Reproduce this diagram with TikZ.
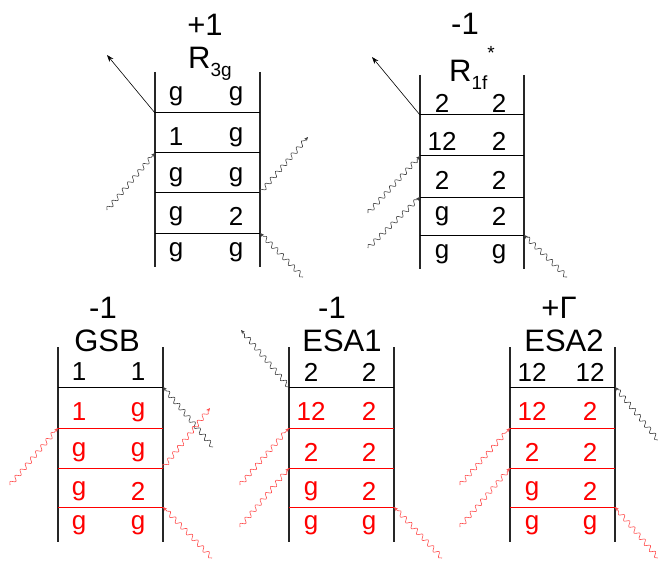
\documentclass[tikz,border=0pt]{standalone}
\usepackage{fontspec}
\setmainfont{Liberation Sans}
\usepackage{tikz}
\usetikzlibrary{arrows.meta,decorations.pathmorphing,positioning}

\newcommand{\lowsub}[1]{\raisebox{-8pt}{\fontsize{19}{19}\selectfont #1}}
\newcommand{\highsup}[1]{\raisebox{22pt}{\fontsize{19}{19}\selectfont #1}}

\begin{document}
\begin{tikzpicture}[
    x=1pt, y=-1pt,
    rail/.style={line width=1.6pt, black!85},
    rung/.style={line width=1pt},
    lbl/.style={inner sep=0pt, font=\fontsize{26}{26}\selectfont},
    ttl/.style={inner sep=0pt, anchor=base, font=\fontsize{31}{31}\selectfont},
    photon/.style={decorate, decoration={snake, amplitude=2.3pt, segment length=8pt, post length=3pt},
        line width=0.6pt, -{Stealth[length=4pt,width=3.5pt]}},
    emit/.style={-{Stealth[length=7pt,width=5pt]}, line width=0.6pt}
]
\useasboundingbox (0,0) rectangle (658,564);

% R_3g
\node[ttl] (A-sign) at (205,36) {+1};
\node[ttl] (A-name) at (210,69) {R\lowsub{3g}};
\coordinate (A-tl) at (155,72); \coordinate (A-bl) at (155,267);
\coordinate (A-tr) at (260,72); \coordinate (A-br) at (260,267);
\draw[rail] (A-tl) -- (A-bl);
\draw[rail] (A-tr) -- (A-br);
\foreach \i/\y in {1/113,2/153,3/193,4/233} {
  \coordinate (A-l\i) at (155,\y); \coordinate (A-r\i) at (260,\y);
  \draw[rung] (A-l\i) -- (A-r\i);
}
\foreach \i/\y/\p/\q in {0/96/g/g,1/137/1/g,2/177/g/g,3/216/g/2,4/252/g/g} {
  \node[lbl] (A-p\i) at (176,\y) {\p};
  \node[lbl] (A-q\i) at (236,\y) {\q};
}
\coordinate (A-out) at (107,55);
\coordinate (A-in1) at (107,210);
\coordinate (A-out1) at (308,137);
\coordinate (A-in2) at (303,277);
\draw[emit] (A-l1) -- (A-out);
\draw[photon, black!75] (A-in1) -- (A-l2);
\draw[photon, black!75] (A-r3) -- (A-out1);
\draw[photon, black!75] (A-in2) -- (A-r4);

% R_1f*
\node[ttl] (B-sign) at (465,35) {-1};
\node[ttl] (B-name) at (472,82) {R\lowsub{1f}\highsup{*}};
\coordinate (B-tl) at (420,75); \coordinate (B-bl) at (420,269);
\coordinate (B-tr) at (524,75); \coordinate (B-br) at (524,269);
\draw[rail] (B-tl) -- (B-bl);
\draw[rail] (B-tr) -- (B-br);
\foreach \i/\y in {1/115,2/156,3/197,4/235} {
  \coordinate (B-l\i) at (420,\y); \coordinate (B-r\i) at (524,\y);
  \draw[rung] (B-l\i) -- (B-r\i);
}
\foreach \i/\y/\p/\q in {0/103/2/2,1/141/12/2,2/180/2/2,3/216/g/2,4/254/g/g} {
  \node[lbl] (B-p\i) at (442,\y) {\p};
  \node[lbl] (B-q\i) at (499,\y) {\q};
}
\coordinate (B-out) at (372,57);
\coordinate (B-in1) at (368,213);
\coordinate (B-in2) at (368,248);
\coordinate (B-in3) at (567,277);
\draw[emit] (B-l1) -- (B-out);
\draw[photon, black!75] (B-in1) -- (B-l2);
\draw[photon, black!75] (B-in2) -- (B-l3);
\draw[photon, black!75] (B-in3) -- (B-r4);

% GSB
\node[ttl] (C-sign) at (103,318) {-1};
\node[ttl] (C-name) at (107,351) {GSB};
\coordinate (C-tl) at (58,347); \coordinate (C-bl) at (58,542);
\coordinate (C-tr) at (163,347); \coordinate (C-br) at (163,542);
\draw[rail] (C-tl) -- (C-bl);
\draw[rail] (C-tr) -- (C-br);
\foreach \i/\y/\c in {1/387/black,2/428/red,3/468/red,4/507/red} {
  \coordinate (C-l\i) at (58,\y); \coordinate (C-r\i) at (163,\y);
  \draw[rung, \c] (C-l\i) -- (C-r\i);
}
\foreach \i/\y/\p/\q/\c in {0/372/1/1/black,1/412/1/g/red,2/452/g/g/red,3/491/g/2/red,4/525/g/g/red} {
  \node[lbl, \c] (C-p\i) at (79,\y) {\p};
  \node[lbl, \c] (C-q\i) at (138,\y) {\q};
}
\coordinate (C-in0) at (213,447);
\coordinate (C-in1) at (10,485);
\coordinate (C-out1) at (210,408);
\coordinate (C-in2) at (212,558);
\draw[photon, black!75] (C-in0) -- (C-r1);
\draw[photon, red!70] (C-in1) -- (C-l2);
\draw[photon, red!70] (C-r3) -- (C-out1);
\draw[photon, red!70] (C-in2) -- (C-r4);

% ESA1
\node[ttl] (D-sign) at (332,318) {-1};
\node[ttl] (D-name) at (342,351) {ESA1};
\coordinate (D-tl) at (289,347); \coordinate (D-bl) at (289,542);
\coordinate (D-tr) at (394,347); \coordinate (D-br) at (394,542);
\draw[rail] (D-tl) -- (D-bl);
\draw[rail] (D-tr) -- (D-br);
\foreach \i/\y/\c in {1/387/black,2/428/red,3/468/red,4/507/red} {
  \coordinate (D-l\i) at (289,\y); \coordinate (D-r\i) at (394,\y);
  \draw[rung, \c] (D-l\i) -- (D-r\i);
}
\foreach \i/\y/\p/\q/\c in {0/372/2/2/black,1/411/12/2/red,2/452/2/2/red,3/491/g/2/red,4/525/g/g/red} {
  \node[lbl, \c] (D-p\i) at (311,\y) {\p};
  \node[lbl, \c] (D-q\i) at (369,\y) {\q};
}
\coordinate (D-out) at (241,330);
\coordinate (D-in1) at (240,485);
\coordinate (D-in2) at (240,527);
\coordinate (D-in3) at (442,558);
\draw[photon, black!75] (D-l1) -- (D-out);
\draw[photon, red!70] (D-in1) -- (D-l2);
\draw[photon, red!70] (D-in2) -- (D-l3);
\draw[photon, red!70] (D-in3) -- (D-r4);

% ESA2
\node[ttl] (E-sign) at (559,318) {+Γ};
\node[ttl] (E-name) at (564,351) {ESA2};
\coordinate (E-tl) at (510,347); \coordinate (E-bl) at (510,542);
\coordinate (E-tr) at (615,347); \coordinate (E-br) at (615,542);
\draw[rail] (E-tl) -- (E-bl);
\draw[rail] (E-tr) -- (E-br);
\foreach \i/\y/\c in {1/387/black,2/428/red,3/468/red,4/507/red} {
  \coordinate (E-l\i) at (510,\y); \coordinate (E-r\i) at (615,\y);
  \draw[rung, \c] (E-l\i) -- (E-r\i);
}
\foreach \i/\y/\p/\q/\c in {0/372/12/12/black,1/411/12/2/red,2/452/2/2/red,3/491/g/2/red,4/525/g/g/red} {
  \node[lbl, \c] (E-p\i) at (532,\y) {\p};
  \node[lbl, \c] (E-q\i) at (590,\y) {\q};
}
\coordinate (E-in0) at (658,440);
\coordinate (E-in1) at (460,485);
\coordinate (E-in2) at (460,527);
\coordinate (E-in3) at (658,558);
\draw[photon, black!75] (E-in0) -- (E-r1);
\draw[photon, red!70] (E-in1) -- (E-l2);
\draw[photon, red!70] (E-in2) -- (E-l3);
\draw[photon, red!70] (E-in3) -- (E-r4);
\end{tikzpicture}
\end{document}
